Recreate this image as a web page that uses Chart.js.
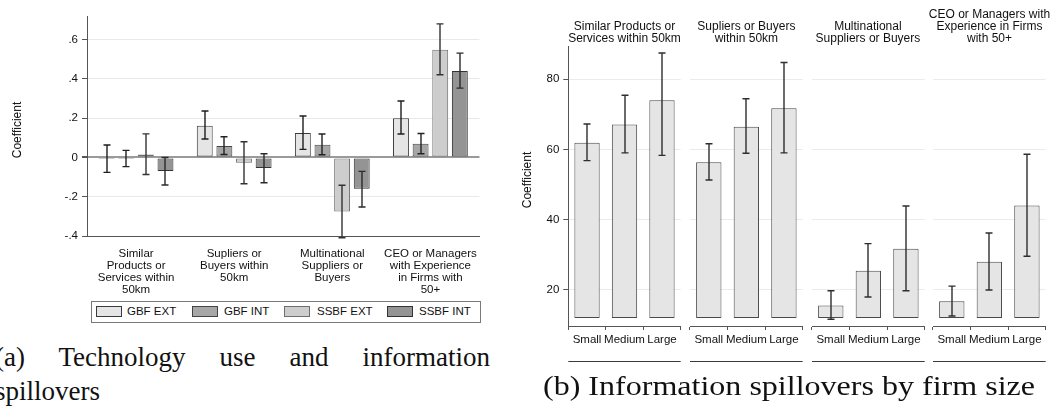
<!DOCTYPE html>
<html>
<head>
<meta charset="utf-8">
<script src="https://cdn.jsdelivr.net/npm/chart.js@4.4.0/dist/chart.umd.min.js"></script>
<style>
  html, body { margin: 0; padding: 0; background: #fff; }
  #root { position: relative; width: 1050px; height: 406px; overflow: hidden; background: #fff;
          font-family: "Liberation Sans", Arial, sans-serif; color: #111; }
  canvas { position: absolute; }
  .ytitle { position: absolute; width: 120px; text-align: center; font-size: 12px; line-height: 14px;
            transform: translate(-50%, -50%) rotate(-90deg); white-space: nowrap; }
  .ptitle { position: absolute; width: 140px; text-align: center; font-size: 12px; line-height: 12px;
            transform: translateX(-50%); white-space: nowrap; }
  .legbox { position: absolute; left: 91px; top: 301px; width: 388px; height: 20px; border: 1px solid #7a7a7a; }
  .sw { position: absolute; top: 306px; width: 24px; height: 9px; border: 1px solid #444; }
  .lt { position: absolute; top: 304px; font-size: 11.5px; line-height: 14px; white-space: nowrap; }
  .cap { position: absolute; font-family: "Liberation Serif", "DejaVu Serif", serif; font-size: 27px;
         line-height: 34px; color: #111; }
  .just { text-align: justify; text-align-last: justify; white-space: nowrap; }
</style>
</head>
<body>
<div id="root">
  <canvas id="techChart" width="490" height="300" style="left:0;top:0"></canvas>
  <div class="ytitle" style="left:17px;top:130px">Coefficient</div>

  <div class="legbox"></div>
  <div id="legend"></div>

  <canvas id="size0" width="175" height="340" style="left:510px;top:30px"></canvas>
  <canvas id="size1" width="117" height="340" style="left:688px;top:30px"></canvas>
  <canvas id="size2" width="117" height="340" style="left:810px;top:30px"></canvas>
  <canvas id="size3" width="117" height="340" style="left:931px;top:30px"></canvas>
  <div class="ytitle" style="left:527px;top:180px">Coefficient</div>
  <div id="titles"></div>

  <div class="cap" style="left:-5px;top:340px;width:495px">
    <div class="just">(a) Technology use and information</div>
    <div>spillovers</div>
  </div>
  <div class="cap" id="capB" style="left:543px;top:369px;white-space:nowrap">(b) Information spillovers by firm size</div>
</div>

<script>
// ---------- Panel (a): technology use and information spillovers ----------
const spillCategories = [
  ["Similar", "Products or", "Services within", "50km"],
  ["Supliers or", "Buyers within", "50km"],
  ["Multinational", "Suppliers or", "Buyers"],
  ["CEO or Managers", "with Experience", "in Firms with", "50+"]
];
const seriesNames = ["GBF EXT", "GBF INT", "SSBF EXT", "SSBF INT"];

const gbfExt   = [-0.003, 0.161, 0.124, 0.200];
const gbfExtLo = [-0.076, 0.094, 0.041, 0.119];
const gbfExtHi = [ 0.063, 0.236, 0.211, 0.287];

const gbfInt   = [-0.003, 0.058, 0.065, 0.070];
const gbfIntLo = [-0.047, 0.015, 0.014, 0.019];
const gbfIntHi = [ 0.036, 0.105, 0.119, 0.122];

const ssbfExt   = [ 0.015, -0.027, -0.275, 0.548];
const ssbfExtLo = [-0.087, -0.134, -0.409, 0.421];
const ssbfExtHi = [ 0.120,  0.080, -0.142, 0.680];

const ssbfInt   = [-0.069, -0.054, -0.159, 0.440];
const ssbfIntLo = [-0.140, -0.129, -0.252, 0.353];
const ssbfIntHi = [ 0.000,  0.019, -0.071, 0.531];

const coefTicks = [-0.4, -0.2, 0, 0.2, 0.4, 0.6];
const coefTickLabels = ["-.4", "-.2", "0", ".2", ".4", ".6"];

// ---------- Panel (b): information spillovers by firm size ----------
const sizeLabels = ["Small", "Medium", "Large"];
const panelTitles = [
  ["Similar Products or", "Services within 50km"],
  ["Supliers or Buyers", "within 50km"],
  ["Multinational", "Suppliers or Buyers"],
  ["CEO or Managers with", "Experience in Firms", "with 50+"]
];
const similarBySize   = [61.9, 67.1, 74.0];
const similarLo       = [56.8, 59.0, 58.3];
const similarHi       = [67.2, 75.4, 87.4];
const suppliersBySize = [56.3, 66.4, 71.7];
const suppliersLo     = [51.3, 58.9, 59.0];
const suppliersHi     = [61.6, 74.4, 84.7];
const multiBySize     = [15.6, 25.5, 31.7];
const multiLo         = [11.7, 18.0, 19.8];
const multiHi         = [19.8, 33.2, 43.9];
const ceoBySize       = [16.8, 28.0, 44.0];
const ceoLo           = [12.6, 20.0, 29.6];
const ceoHi           = [21.1, 36.2, 58.6];
const sizeTicks = [20, 40, 60, 80];
const sizeBase = 12;

// ---------- shared helpers ----------
const FONT = "'Liberation Sans', Arial, sans-serif";

// Draws confidence intervals as capped whiskers on top of each bar.
const errorBars = {
  id: 'errorBars',
  afterDatasetsDraw(chart, args, opts) {
    const ctx = chart.ctx;
    const yScale = chart.scales.y;
    chart.data.datasets.forEach((ds, i) => {
      if (!ds.errLow) return;
      const meta = chart.getDatasetMeta(i);
      ctx.save();
      ctx.strokeStyle = ds.errColor || '#222';
      ctx.lineWidth = opts.lineWidth || 1.4;
      meta.data.forEach((bar, j) => {
        const x = Math.round(bar.x);
        const yLo = yScale.getPixelForValue(ds.errLow[j]);
        const yHi = yScale.getPixelForValue(ds.errHigh[j]);
        const c = (opts.cap || 7) / 2;
        ctx.beginPath();
        ctx.moveTo(x, yLo); ctx.lineTo(x, yHi);
        ctx.moveTo(x - c, yLo); ctx.lineTo(x + c, yLo);
        ctx.moveTo(x - c, yHi); ctx.lineTo(x + c, yHi);
        ctx.stroke();
      });
      ctx.restore();
    });
  }
};

// Horizontal rule under the x labels of each by-size panel.
const underRule = {
  id: 'underRule',
  afterDraw(chart, args, opts) {
    const { ctx, chartArea } = chart;
    ctx.save();
    ctx.strokeStyle = '#3a3a3a';
    ctx.lineWidth = 1;
    const y = Math.round(chartArea.bottom + opts.offset) + 0.5;
    ctx.beginPath();
    ctx.moveTo(chartArea.left, y);
    ctx.lineTo(chartArea.right, y);
    ctx.stroke();
    ctx.restore();
  }
};

function fixedTicks(values) {
  return (scale) => { scale.ticks = values.map(v => ({ value: v })); };
}

// ---------- Panel (a) chart ----------
const fills   = ['#e5e5e5', '#a7a7a7', '#cdcdcd', '#949494'];
const borders = ['#3a3a3a', '#444444', '#6e6e6e', '#333333'];
const errCols = ['#1e1e1e', '#222222', '#333333', '#2a2a2a'];
const values  = [gbfExt, gbfInt, ssbfExt, ssbfInt];
const lows    = [gbfExtLo, gbfIntLo, ssbfExtLo, ssbfIntLo];
const highs   = [gbfExtHi, gbfIntHi, ssbfExtHi, ssbfIntHi];

new Chart(document.getElementById('techChart'), {
  type: 'bar',
  data: {
    labels: spillCategories,
    datasets: seriesNames.map((name, i) => ({
      label: name,
      data: values[i],
      errLow: lows[i],
      errHigh: highs[i],
      errColor: errCols[i],
      backgroundColor: fills[i],
      borderColor: borders[i],
      borderWidth: 1,
      borderSkipped: false,
      categoryPercentage: 0.8,
      barPercentage: 0.81
    }))
  },
  options: {
    responsive: false,
    animation: false,
    layout: { padding: { top: 16, right: 10, left: 0, bottom: 0 } },
    plugins: {
      legend: { display: false },
      tooltip: { enabled: false },
      errorBars: { lineWidth: 1.4, cap: 7 }
    },
    scales: {
      x: {
        offset: true,
        grid: { display: false, drawTicks: false },
        border: { display: true, color: '#555', width: 1 },
        ticks: { font: { family: FONT, size: 11.5, lineHeight: 1.03 }, color: '#111', padding: 12,
                 maxRotation: 0, autoSkip: false },
        afterFit: (s) => { s.height = 64; }
      },
      y: {
        min: -0.4,
        max: 0.72,
        afterBuildTicks: fixedTicks(coefTicks),
        grid: {
          color: (c) => (c.tick && c.tick.value === 0) ? '#9a9a9a' : '#e9e9e9',
          lineWidth: (c) => (c.tick && c.tick.value === 0) ? 2 : 1,
          tickColor: '#555',
          tickLength: 5
        },
        border: { display: true, color: '#555', width: 1 },
        ticks: {
          font: { family: FONT, size: 11.5 }, color: '#111', padding: 4,
          callback: (v) => coefTickLabels[coefTicks.indexOf(v)] ?? ''
        },
        afterFit: (s) => { s.width = 87; }
      }
    }
  },
  plugins: [errorBars]
});

// ---------- Panel (a) legend ----------
const legendSwatchX = [96, 192, 284, 387];
const legendTextX = [127, 224, 317, 419];
const legendEl = document.getElementById('legend');
seriesNames.forEach((name, i) => {
  const sw = document.createElement('div');
  sw.className = 'sw';
  sw.style.left = legendSwatchX[i] + 'px';
  sw.style.background = fills[i];
  sw.style.borderColor = borders[i];
  legendEl.appendChild(sw);
  const t = document.createElement('div');
  t.className = 'lt';
  t.style.left = legendTextX[i] + 'px';
  t.textContent = name;
  legendEl.appendChild(t);
});

// ---------- Panel (b) charts ----------
const sizeSeries = [
  [similarBySize, similarLo, similarHi],
  [suppliersBySize, suppliersLo, suppliersHi],
  [multiBySize, multiLo, multiHi],
  [ceoBySize, ceoLo, ceoHi]
];
const titleCenters = [624.5, 746.4, 867.9, 989.5];

sizeSeries.forEach((s, k) => {
  const first = k === 0;
  new Chart(document.getElementById('size' + k), {
    type: 'bar',
    data: {
      labels: sizeLabels,
      datasets: [{
        data: s[0],
        errLow: s[1],
        errHigh: s[2],
        errColor: '#2e2e2e',
        base: sizeBase,
        backgroundColor: '#e5e5e5',
        borderColor: '#4a4a4a',
        borderWidth: 1,
        borderSkipped: false,
        categoryPercentage: 1,
        barPercentage: 0.675
      }]
    },
    options: {
      responsive: false,
      animation: false,
      layout: { padding: { top: 16.7, right: first ? 4.3 : 2.3, left: first ? 0 : 2, bottom: 0 } },
      plugins: {
        legend: { display: false },
        tooltip: { enabled: false },
        errorBars: { lineWidth: 1.4, cap: 7 },
        underRule: { offset: 35 }
      },
      scales: {
        x: {
          offset: true,
          grid: { drawOnChartArea: false, drawTicks: true, tickLength: 4, tickColor: '#555' },
          border: { display: true, color: '#555', width: 1 },
          ticks: { font: { family: FONT, size: 11.5 }, color: '#111', padding: 3, maxRotation: 0, autoSkip: false },
          afterFit: (sc) => { sc.height = 44; }
        },
        y: {
          min: 9.76,
          max: 89.2,
          afterBuildTicks: fixedTicks(sizeTicks),
          grid: { color: '#ebebeb', lineWidth: 1, drawTicks: first, tickLength: 5, tickColor: '#555' },
          border: { display: first, color: '#555', width: 1 },
          ticks: { display: first, font: { family: FONT, size: 11.5 }, color: '#111', padding: 4 },
          afterFit: (sc) => { sc.width = first ? 58.3 : 0; }
        }
      }
    },
    plugins: [errorBars, underRule]
  });
});

// ---------- Panel (b) subplot titles ----------
const titlesEl = document.getElementById('titles');
panelTitles.forEach((lines, k) => {
  const d = document.createElement('div');
  d.className = 'ptitle';
  d.style.left = titleCenters[k] + 'px';
  d.style.top = (43.7 - 12 * lines.length) + 'px';
  d.innerHTML = lines.join('<br>');
  titlesEl.appendChild(d);
});

// Fit caption (b) to its column width
const capB = document.getElementById('capB');
const targetW = 492;
const w = capB.getBoundingClientRect().width;
capB.style.transformOrigin = 'left center';
capB.style.transform = 'scaleX(' + (targetW / w).toFixed(4) + ')';
</script>
</body>
</html>
